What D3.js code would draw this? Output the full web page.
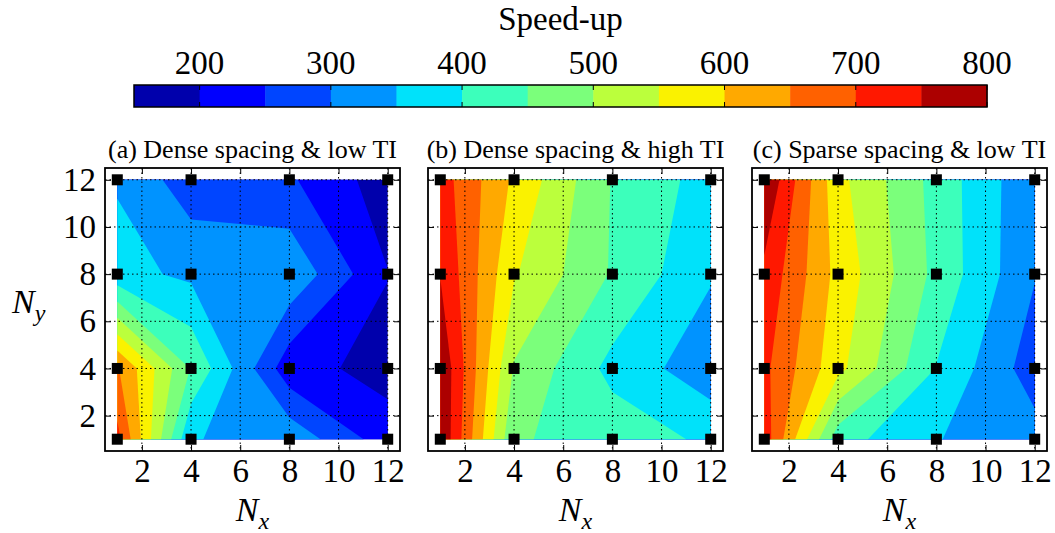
<!DOCTYPE html>
<html><head><meta charset="utf-8">
<script src="https://cdn.jsdelivr.net/npm/d3@7"></script>
<style>
body{margin:0;background:#fff}
svg{display:block}
text{font-family:"Liberation Serif","Times New Roman",serif;fill:#000}
</style>
</head><body><svg id="chart" width="1055" height="533"></svg>
<script>
// ---------------- data ----------------
const nxValues = [1, 4, 8, 12];
const nyValues = [1, 4, 8, 12];
// rows: Ny = 1, 4, 8, 12 ; columns: Nx = 1, 4, 8, 12
const speedupA = [
  [716, 352, 336, 222],
  [655, 447, 218, 183],
  [366, 340, 340, 201.5],
  [346, 271, 257, 174]
];
const speedupB = [
  [798, 455, 430, 390],
  [795, 495, 385, 318],
  [748, 555, 445, 355],
  [724, 591, 447, 379]
];
const speedupC = [
  [729, 421, 352, 321],
  [712, 565, 398, 273],
  [738, 584, 436, 303],
  [798, 565, 432, 308]
];
const panelTitles = ["(a) Dense spacing & low TI", "(b) Dense spacing & high TI", "(c) Sparse spacing & low TI"];
const levels = [150, 200, 250, 300, 350, 400, 450, 500, 550, 600, 650, 700, 750, 800];
const axisTicks = [2, 4, 6, 8, 10, 12];
const colorbarTicks = [200, 300, 400, 500, 600, 700, 800];
const colorbarTitle = "Speed-up";

// ---------------- colormap (matplotlib jet) ----------------
const jetR = [[0,0],[0.35,0],[0.66,1],[0.89,1],[1,0.5]];
const jetG = [[0,0],[0.125,0],[0.375,1],[0.64,1],[0.91,0],[1,0]];
const jetB = [[0,0.5],[0.11,1],[0.34,1],[0.65,0],[1,0]];
function jetChannel(pts, t) {
  for (let i = 1; i < pts.length; i++) {
    if (t <= pts[i][0]) {
      const [x0, y0] = pts[i-1], [x1, y1] = pts[i];
      return y0 + (y1 - y0) * (t - x0) / (x1 - x0);
    }
  }
  return pts[pts.length-1][1];
}
function jet(t) {
  return d3.rgb(Math.round(255*jetChannel(jetR,t)), Math.round(255*jetChannel(jetG,t)), Math.round(255*jetChannel(jetB,t))).formatHex();
}
const nBands = levels.length - 1;
const bandColors = d3.range(nBands).map(i => jet((i + 0.5) / nBands));

const svg = d3.select("#chart");
const FONT = 33;

// ---------------- colorbar ----------------
const cbX0 = 134, cbX1 = 987, cbY0 = 85, cbY1 = 107;
const cbScale = d3.scaleLinear().domain([levels[0], levels[levels.length-1]]).range([cbX0, cbX1]);
const cb = svg.append("g");
cb.selectAll("rect.band").data(d3.range(nBands)).join("rect")
  .attr("x", i => cbScale(levels[i]))
  .attr("width", i => cbScale(levels[i+1]) - cbScale(levels[i]) + 0.5)
  .attr("y", cbY0).attr("height", cbY1 - cbY0)
  .attr("fill", i => bandColors[i]);
cb.selectAll("line.tt").data(colorbarTicks).join("line")
  .attr("x1", d => cbScale(d)).attr("x2", d => cbScale(d))
  .attr("y1", cbY0).attr("y2", cbY0 + 5).attr("stroke", "#000").attr("stroke-width", 1);
cb.selectAll("line.tb").data(colorbarTicks).join("line")
  .attr("x1", d => cbScale(d)).attr("x2", d => cbScale(d))
  .attr("y1", cbY1 - 5).attr("y2", cbY1).attr("stroke", "#000").attr("stroke-width", 1);
cb.append("rect").attr("x", cbX0).attr("y", cbY0).attr("width", cbX1 - cbX0).attr("height", cbY1 - cbY0)
  .attr("fill", "none").attr("stroke", "#000").attr("stroke-width", 1.5);
cb.selectAll("text.lab").data(colorbarTicks).join("text")
  .attr("x", d => cbScale(d)).attr("y", 74).attr("text-anchor", "middle")
  .attr("font-size", FONT).text(d => d);
cb.append("text").attr("x", (cbX0 + cbX1) / 2).attr("y", 30).attr("text-anchor", "middle")
  .attr("font-size", 33).text(colorbarTitle);

// ---------------- panels ----------------
const panelLefts = [105, 428, 752];
const panelWidth = 295;
const pTop = 168, pBottom = 451;
const datasets = [speedupA, speedupB, speedupC];

function idxToVal(c, arr) {
  const t = Math.max(0, Math.min(arr.length - 1, c - 0.5));
  const i = Math.min(Math.floor(t), arr.length - 2);
  return arr[i] + (arr[i+1] - arr[i]) * (t - i);
}

datasets.forEach((data, p) => {
  const left = panelLefts[p];
  const x = d3.scaleLinear().domain([0.5, 12.5]).range([left, left + panelWidth]);
  const y = d3.scaleLinear().domain([0.5, 12.5]).range([pBottom, pTop]);
  const g = svg.append("g");

  // filled contours on the 4x4 grid (marching squares with linear interpolation)
  const contours = d3.contours().size([nxValues.length, nyValues.length])
    .thresholds(levels.slice(0, -1))(data.flat());
  const proj = d3.geoTransform({
    point(px, py) { this.stream.point(x(idxToVal(px, nxValues)), y(idxToVal(py, nyValues))); }
  });
  const path = d3.geoPath(proj);
  g.append("g").selectAll("path").data(contours).join("path")
    .attr("d", path)
    .attr("fill", d => bandColors[levels.indexOf(d.value)])
    .attr("stroke", "none");

  // dotted grid
  const grid = g.append("g").attr("stroke", "#000").attr("stroke-width", 1).attr("stroke-dasharray", "1.5,3");
  grid.selectAll("line.v").data(axisTicks).join("line")
    .attr("x1", d => x(d)).attr("x2", d => x(d)).attr("y1", pTop).attr("y2", pBottom);
  grid.selectAll("line.h").data(axisTicks).join("line")
    .attr("y1", d => y(d)).attr("y2", d => y(d)).attr("x1", left).attr("x2", left + panelWidth);

  // axes (inward ticks on all sides)
  const fmt = d3.format("d");
  const ax = g.append("g").attr("transform", `translate(0,${pBottom})`)
    .call(d3.axisBottom(x).tickValues(axisTicks).tickSizeInner(-6).tickSizeOuter(0).tickPadding(8).tickFormat(fmt));
  const axT = g.append("g").attr("transform", `translate(0,${pTop})`)
    .call(d3.axisTop(x).tickValues(axisTicks).tickSizeInner(-6).tickSizeOuter(0).tickFormat(""));
  const ayL = g.append("g").attr("transform", `translate(${left},0)`)
    .call(d3.axisLeft(y).tickValues(axisTicks).tickSizeInner(-6).tickSizeOuter(0).tickPadding(9)
      .tickFormat(p === 0 ? fmt : ""));
  const ayR = g.append("g").attr("transform", `translate(${left + panelWidth},0)`)
    .call(d3.axisRight(y).tickValues(axisTicks).tickSizeInner(-6).tickSizeOuter(0).tickFormat(""));
  [ax, axT, ayL, ayR].forEach(a => {
    a.select(".domain").remove();
    a.selectAll("text").attr("font-size", FONT).attr("font-family", "Liberation Serif").attr("fill", "#000");
    a.selectAll(".tick line").attr("stroke", "#000").attr("stroke-width", 1);
  });

  // frame
  g.append("rect").attr("x", left).attr("y", pTop).attr("width", panelWidth).attr("height", pBottom - pTop)
    .attr("fill", "none").attr("stroke", "#000").attr("stroke-width", 1.8);

  // markers at measurement points
  const pts = [];
  nyValues.forEach(ny => nxValues.forEach(nx => pts.push([nx, ny])));
  g.selectAll("rect.mk").data(pts).join("rect")
    .attr("x", d => x(d[0]) - 5.5).attr("y", d => y(d[1]) - 5.5)
    .attr("width", 11).attr("height", 11).attr("fill", "#000");

  // panel title
  g.append("text").attr("x", left + panelWidth / 2).attr("y", 158).attr("text-anchor", "middle")
    .attr("font-size", 26).text(panelTitles[p]);

  // x label N_x
  const xl = g.append("text").attr("x", left + panelWidth / 2).attr("y", 521).attr("text-anchor", "middle")
    .attr("font-size", 34).attr("font-style", "italic");
  xl.append("tspan").text("N");
  xl.append("tspan").attr("font-size", 24).attr("dy", 8).text("x");
});

// y label N_y
const yl = svg.append("text").attr("x", 12).attr("y", 313).attr("font-size", 34).attr("font-style", "italic");
yl.append("tspan").text("N");
yl.append("tspan").attr("font-size", 24).attr("dy", 8).text("y");
</script>
</body></html>
